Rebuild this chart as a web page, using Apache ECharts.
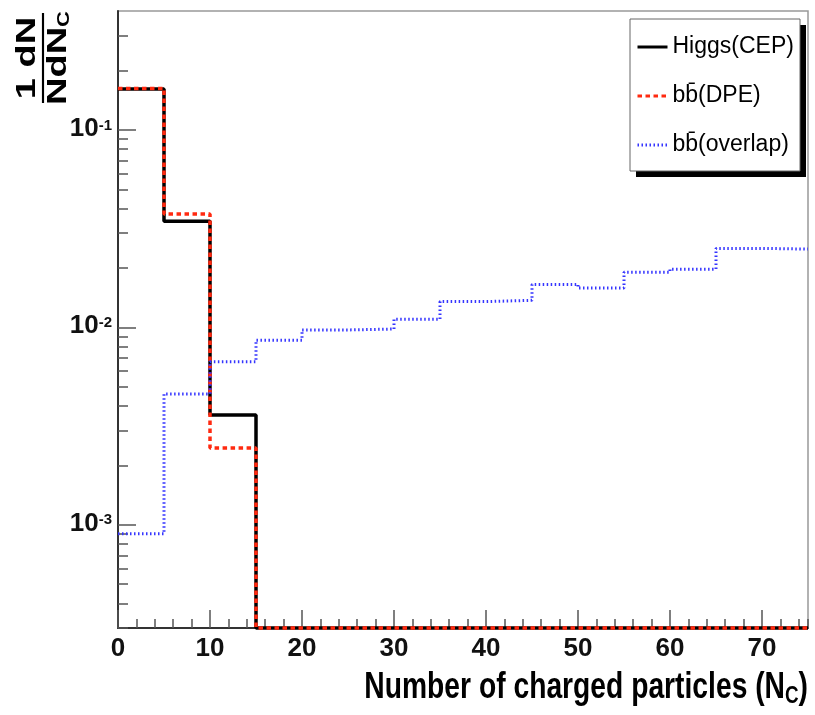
<!DOCTYPE html>
<html>
<head>
<meta charset="utf-8">
<script src="https://cdn.jsdelivr.net/npm/echarts@6/dist/echarts.min.js"></script>
<style>
html,body{margin:0;padding:0;background:#fff}
#chart{width:815px;height:715px}
</style>
</head>
<body>
<div id="chart"></div>
<script>
// bin edges in N_C (width 5)
const binEdges = [0, 5, 10, 15, 20, 25, 30, 35, 40, 45, 50, 55, 60, 65, 70, 75]
// 1/N dN/dN_C per bin, 0 = empty bin (ROOT draws it on the frame floor)
const higgsCEP  = [0.161, 0.0345, 0.0036, 0, 0, 0, 0, 0, 0, 0, 0, 0, 0, 0, 0]
const bbDPE     = [0.162, 0.0375, 0.00245, 0, 0, 0, 0, 0, 0, 0, 0, 0, 0, 0, 0]
const bbOverlap = [0.0009, 0.0046, 0.0067, 0.0086, 0.0097, 0.0098, 0.011, 0.0135, 0.0137, 0.0165, 0.0158, 0.019, 0.0197, 0.0251, 0.0249]
const seriesNames = ['Higgs(CEP)', 'bb\u0304(DPE)', 'bb\u0304(overlap)']
const yMin = 3e-4
const yMax = 0.4

const FONT = "'Liberation Sans', Arial, sans-serif"

// log minor ticks 2..9 x 10^k (drawn on a linear log10 helper axis)
const yMinorTicks = []
for (let e = -4; e <= -1; e++) {
  for (let k = 2; k <= 9; k++) {
    const v = k * Math.pow(10, e)
    if (v > yMin && v < yMax) yMinorTicks.push(Math.log10(v))
  }
}

function histPoints(vals) {
  const pts = vals.map((v, i) => [binEdges[i], v > 0 ? v : yMin])
  pts.push([binEdges[vals.length], pts[pts.length - 1][1]])
  return pts
}

// x title is squeezed in the reference, so scale it to fit
const measureCtx = document.createElement('canvas').getContext('2d')
measureCtx.font = "bold 36px " + FONT
const xTitleMain = 'Number of charged particles (N'
const xTitleW = measureCtx.measureText(xTitleMain).width + measureCtx.measureText('C)').width * 0.75
const xTitleScale = 443 / xTitleW

const chart = echarts.init(document.getElementById('chart'))

const option = {
  animation: false,
  backgroundColor: '#fff',
  grid: {
    left: 118, right: 7, top: 11, bottom: 87,
    show: true, borderColor: '#999', borderWidth: 1.5, backgroundColor: 'transparent'
  },
  legend: {
    orient: 'vertical',
    left: 632, top: 19,
    padding: [15, 0, 0, 4],
    itemGap: 23,
    itemWidth: 30,
    itemHeight: 14,
    itemStyle: { opacity: 0 },
    lineStyle: { width: 3 },
    z: 10,
    data: seriesNames,
    textStyle: { fontFamily: FONT, fontSize: 23, color: '#000', lineHeight: 26 }
  },
  xAxis: [{
    type: 'value', min: 0, max: 75, interval: 10,
    position: 'bottom',
    axisLine: { show: true, lineStyle: { color: '#333', width: 2 } },
    axisTick: { show: true, inside: true, length: 18, lineStyle: { color: '#555', width: 1.5 } },
    axisLabel: {
      show: true, margin: 8, color: '#111', fontFamily: FONT, fontWeight: 'bold', fontSize: 26,
      showMaxLabel: false,
      formatter: v => (v % 10 === 0 ? String(v) : '')
    },
    splitLine: { show: false }
  }, {
    type: 'value', min: 0, max: 75, interval: 2,
    position: 'bottom',
    axisLine: { show: false },
    axisTick: { show: true, inside: true, length: 9, lineStyle: { color: '#555', width: 1.5 } },
    axisLabel: { show: false },
    splitLine: { show: false }
  }],
  yAxis: [{
    type: 'log', logBase: 10, min: yMin, max: yMax,
    position: 'left',
    axisLine: { show: true, lineStyle: { color: '#333', width: 2 } },
    axisTick: { show: true, inside: true, length: 18, lineStyle: { color: '#555', width: 1.5 } },
    axisLabel: {
      show: true, margin: 6, showMinLabel: false, showMaxLabel: false,
      formatter: v => '{m|10}{e|' + Math.round(Math.log10(v)) + '}',
      rich: {
        m: { fontFamily: FONT, fontWeight: 'bold', fontSize: 26, color: '#111', lineHeight: 24, verticalAlign: 'bottom' },
        e: { fontFamily: FONT, fontWeight: 'bold', fontSize: 15, color: '#111', verticalAlign: 'top' }
      }
    },
    splitLine: { show: false }
  }, {
    type: 'value', min: Math.log10(yMin), max: Math.log10(yMax),
    position: 'left',
    axisLine: { show: false },
    axisTick: { show: true, inside: true, length: 10, customValues: yMinorTicks, lineStyle: { color: '#555', width: 1.5 } },
    axisLabel: { show: false },
    splitLine: { show: false }
  }],
  series: [{
    name: seriesNames[0], type: 'line', step: 'end', symbol: 'none', clip: false,
    data: histPoints(higgsCEP),
    lineStyle: { color: '#000', width: 3.5 },
    itemStyle: { color: '#000' },
    z: 3
  }, {
    name: seriesNames[1], type: 'line', step: 'end', symbol: 'none', clip: false,
    data: histPoints(bbDPE),
    lineStyle: { color: '#ff2a10', width: 3.5, type: [4.5, 3.5] },
    itemStyle: { color: '#ff2a10' },
    z: 4
  }, {
    name: seriesNames[2], type: 'line', step: 'end', symbol: 'none', clip: false,
    data: histPoints(bbOverlap),
    lineStyle: { color: '#3535ff', width: 3, type: [1.5, 2.5] },
    itemStyle: { color: '#3535ff' },
    z: 5
  }],
  graphic: [{
    // legend box shadow + frame
    type: 'rect', z: 1,
    shape: { x: 636, y: 25, width: 170, height: 152 },
    style: { fill: '#000' }
  }, {
    type: 'rect', z: 2,
    shape: { x: 630, y: 19, width: 170, height: 152 },
    style: { fill: '#fff', stroke: '#666', lineWidth: 1 }
  }, {
    // y title: 1/N dN/dN_C as a rotated fraction
    type: 'group',
    x: 43, y: 58,
    rotation: Math.PI / 2,
    scaleY: 0.72,
    children: [{
      type: 'text', x: 0, y: -22,
      style: { text: '1 dN', font: 'bold 38px ' + FONT, fill: '#000', align: 'center', verticalAlign: 'middle' }
    }, {
      type: 'line',
      shape: { x1: -45, y1: 0, x2: 45, y2: 0 },
      style: { stroke: '#000', lineWidth: 3 }
    }, {
      type: 'text', x: 0, y: 22,
      style: {
        text: 'NdN{s|C}', align: 'center', verticalAlign: 'middle',
        font: 'bold 38px ' + FONT, fill: '#000',
        rich: { s: { font: 'bold 22px ' + FONT, fill: '#000', verticalAlign: 'bottom', padding: [16, 0, 0, 0] } }
      }
    }]
  }, {
    // x title
    type: 'text',
    x: 808, y: 688,
    scaleX: xTitleScale,
    style: {
      text: xTitleMain + '{s|C})', align: 'right', verticalAlign: 'middle',
      font: 'bold 36px ' + FONT, fill: '#000',
      rich: { s: { font: 'bold 24px ' + FONT, fill: '#000', verticalAlign: 'bottom', padding: [16, 0, 0, 0] } }
    }
  }]
}

chart.setOption(option)
</script>
</body>
</html>
